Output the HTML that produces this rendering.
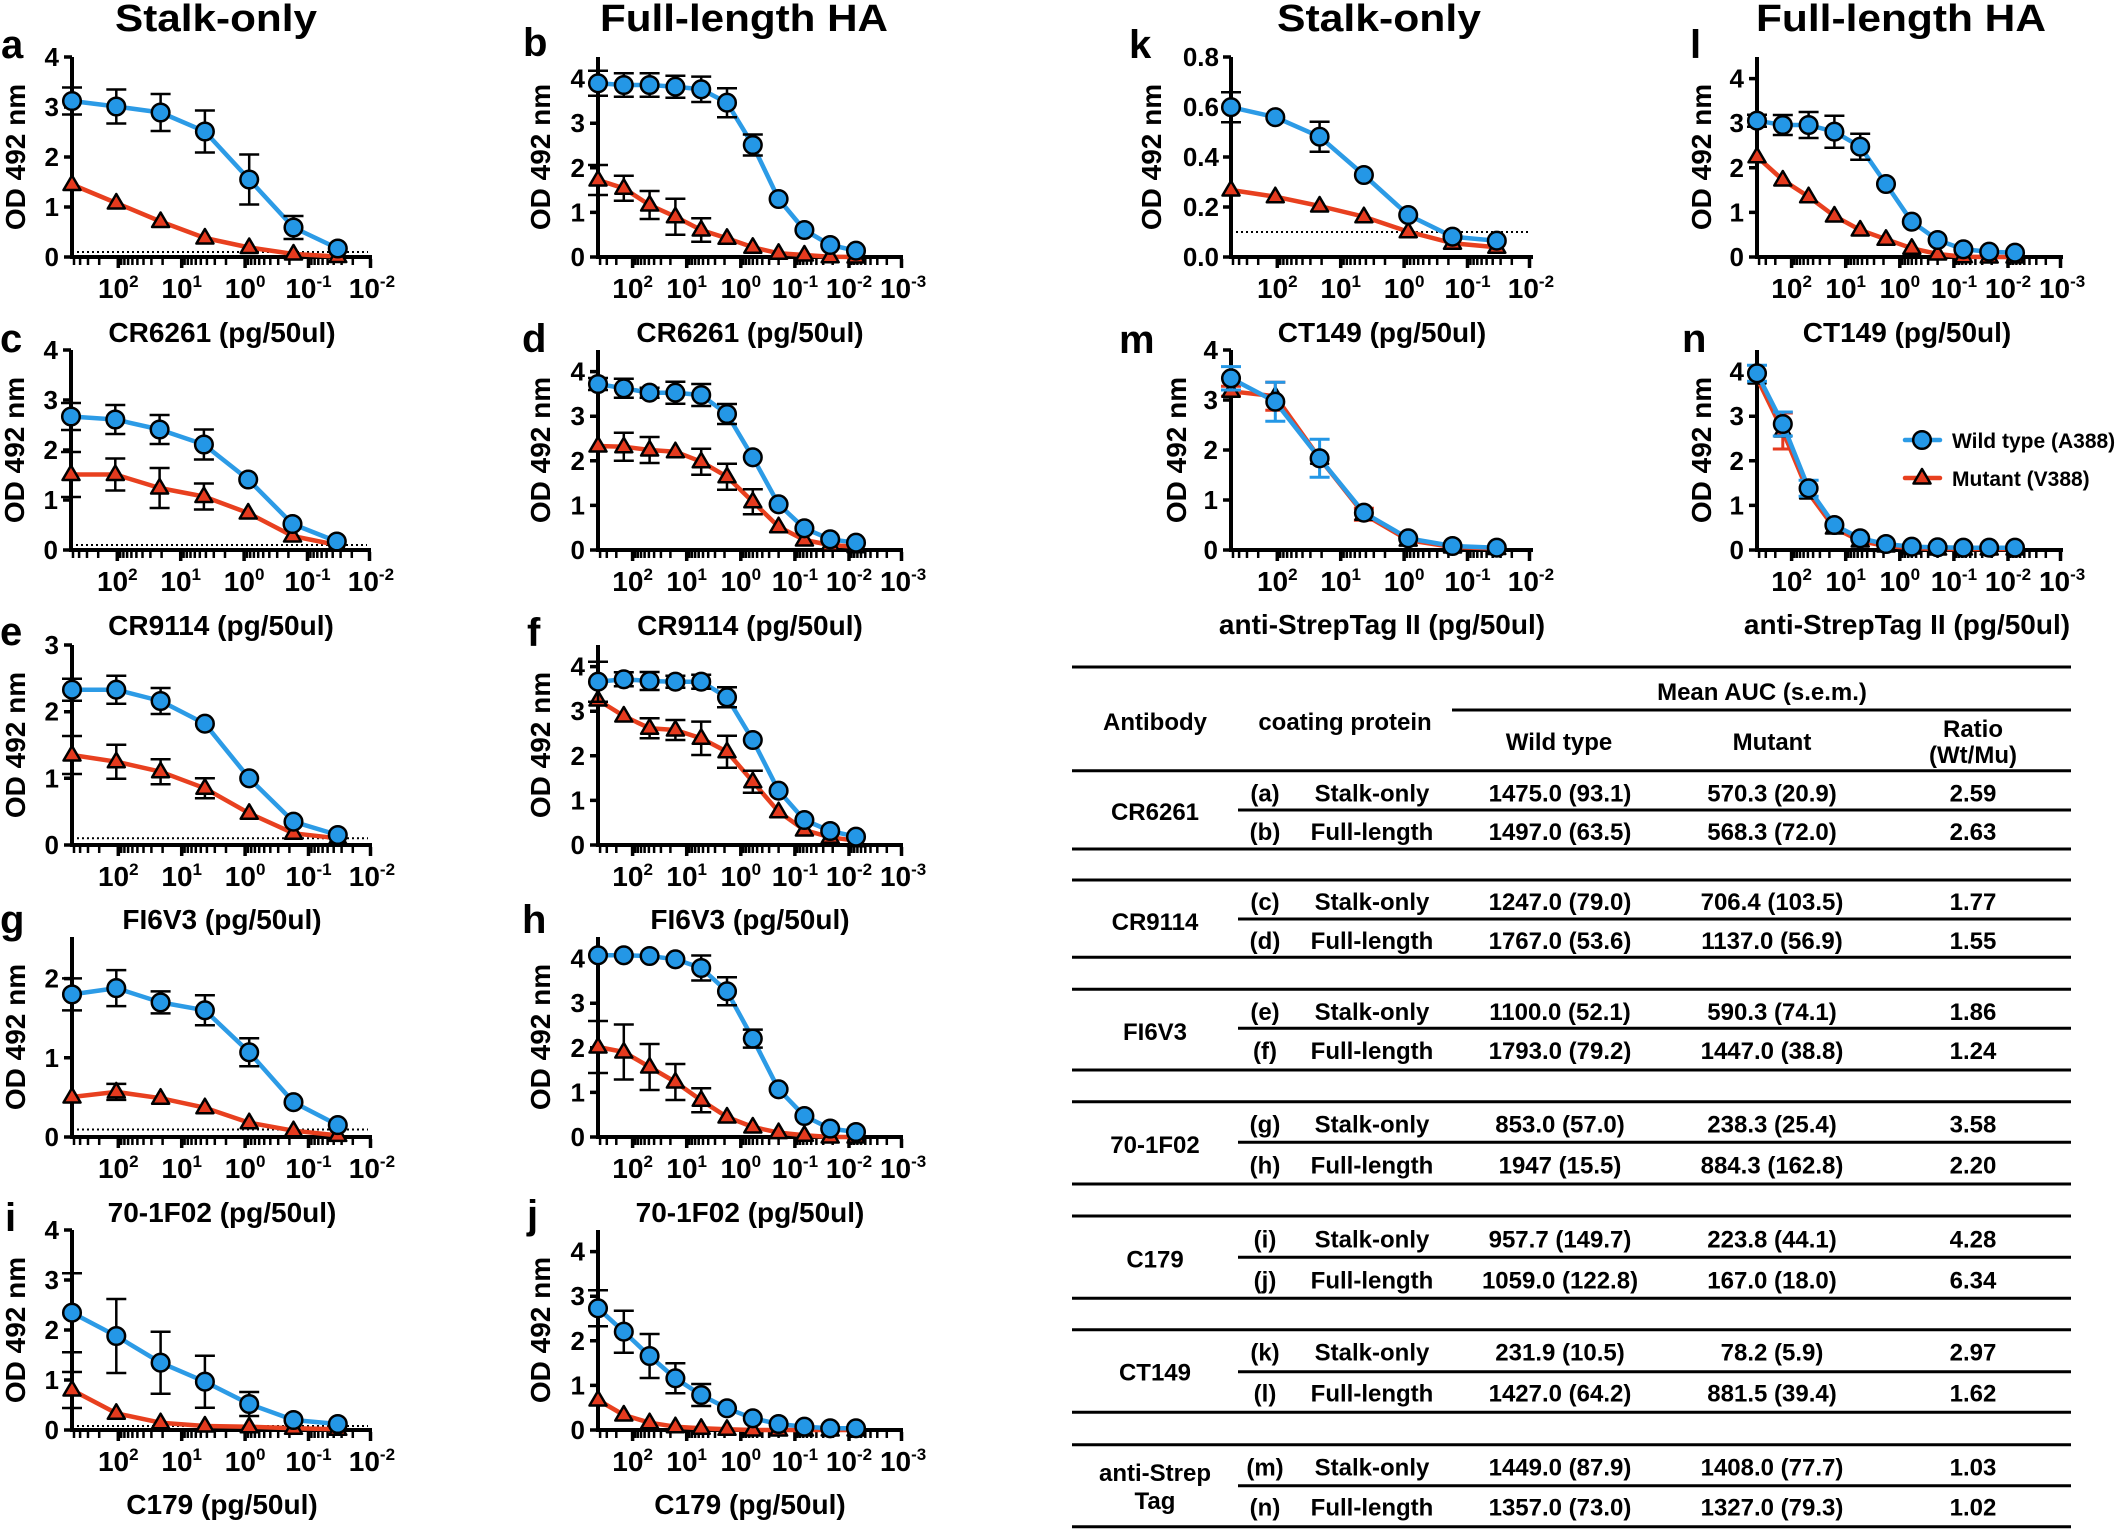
<!DOCTYPE html>
<html>
<head>
<meta charset="utf-8">
<style>
html,body{margin:0;padding:0;background:#fff;}
svg{display:block;}
text{font-family:"Liberation Sans",Arial,sans-serif;font-weight:bold;fill:#000;}
.ax{stroke:#000;stroke-width:4;fill:none;}
.tk{stroke:#000;stroke-width:2.5;fill:none;}
.tkM{stroke:#000;stroke-width:3.5;fill:none;}
.yt{stroke:#000;stroke-width:3.5;fill:none;}
.eb{stroke:#000;stroke-width:2.5;fill:none;}
.ebB{stroke:#2497E6;stroke-width:3;fill:none;}
.ebR{stroke:#E53A1E;stroke-width:3;fill:none;}
.lb{stroke:#2C9BE6;stroke-width:4.5;fill:none;stroke-linejoin:round;stroke-linecap:round;}
.lr{stroke:#E8401F;stroke-width:4.5;fill:none;stroke-linejoin:round;stroke-linecap:round;}
.dot{stroke:#000;stroke-width:2;stroke-dasharray:2 3;fill:none;}
.yl{font-size:26px;text-anchor:end;}
.xl{font-size:28px;text-anchor:middle;}
.sp{font-size:17px;}
.at{font-size:28px;text-anchor:middle;}
.od{font-size:28px;text-anchor:middle;}
.pl{font-size:40px;}
.ti{font-size:38px;}
.tb{font-size:24px;text-anchor:middle;}
.lg{font-size:21px;}
.tl{stroke:#000;stroke-width:3;fill:none;}
</style>
</head>
<body>
<svg width="2124" height="1529" viewBox="0 0 2124 1529" xmlns="http://www.w3.org/2000/svg">
<defs>
<circle id="C" r="8.8" fill="#2497E6" stroke="#000" stroke-width="2.5"/>
<path id="T" d="M0,-9L8.5,5.5L-8.5,5.5Z" fill="#E53A1E" stroke="#000" stroke-width="2.5" stroke-linejoin="round"/>
<g id="xtS">
<path class="tk" d="M2,2v6M8.1,2v6M16,2v6M27.2,2v6M49.2,2v6M52.4,2v6M56.1,2v6M60.4,2v6M65.4,2v6M71.5,2v6M79.4,2v6M90.6,2v6M112.6,2v6M115.8,2v6M119.5,2v6M123.8,2v6M128.8,2v6M134.9,2v6M142.8,2v6M154,2v6M176,2v6M179.2,2v6M182.9,2v6M187.2,2v6M192.2,2v6M198.3,2v6M206.2,2v6M217.4,2v6M239.4,2v6M242.6,2v6M246.3,2v6M250.6,2v6M255.6,2v6M261.7,2v6M269.6,2v6M280.8,2v6"/>
<path class="tkM" d="M46.3,2v9M109.7,2v9M173.1,2v9M236.5,2v9M298.5,2v9"/>
</g>
<g id="xtF">
<path class="tk" d="M2.1,2v6M8.8,2v6M18.3,2v6M37.1,2v6M39.8,2v6M43,2v6M46.6,2v6M50.9,2v6M56.1,2v6M62.9,2v6M72.4,2v6M91.2,2v6M93.9,2v6M97.1,2v6M100.7,2v6M105,2v6M110.2,2v6M117,2v6M126.5,2v6M145.3,2v6M148,2v6M151.2,2v6M154.8,2v6M159.1,2v6M164.3,2v6M171.1,2v6M180.6,2v6M199.4,2v6M202.1,2v6M205.3,2v6M208.9,2v6M213.2,2v6M218.4,2v6M225.2,2v6M234.7,2v6M253.5,2v6M256.2,2v6M259.4,2v6M263,2v6M267.3,2v6M272.5,2v6M279.3,2v6M288.8,2v6"/>
<path class="tkM" d="M34.6,2v9M88.7,2v9M142.8,2v9M196.9,2v9M251,2v9M303.5,2v9"/>
</g>
</defs>

<!-- Titles -->
<text class="ti" x="115" y="31" textLength="202" lengthAdjust="spacingAndGlyphs">Stalk-only</text>
<text class="ti" x="600" y="31" textLength="288" lengthAdjust="spacingAndGlyphs">Full-length HA</text>
<text class="ti" x="1277" y="31" textLength="204" lengthAdjust="spacingAndGlyphs">Stalk-only</text>
<text class="ti" x="1756" y="31" textLength="290" lengthAdjust="spacingAndGlyphs">Full-length HA</text>

<!-- Panel letters -->
<text class="pl" x="1" y="58">a</text>
<text class="pl" x="523" y="56">b</text>
<text class="pl" x="0" y="352">c</text>
<text class="pl" x="522" y="352">d</text>
<text class="pl" x="0" y="645">e</text>
<text class="pl" x="527" y="646">f</text>
<text class="pl" x="0" y="933">g</text>
<text class="pl" x="522" y="933">h</text>
<text class="pl" x="5" y="1231">i</text>
<text class="pl" x="527" y="1228">j</text>
<text class="pl" x="1129" y="58">k</text>
<text class="pl" x="1690" y="58">l</text>
<text class="pl" x="1119" y="353">m</text>
<text class="pl" x="1682" y="352">n</text>

<!-- ===== Panel a ===== -->
<g transform="translate(72,257)">
<use href="#xtS"/>
<path class="ax" d="M-2,0H300M0,2V-200"/>
<path class="yt" d="M-8,0H0M-8,-50H0M-8,-100H0M-8,-150H0M-8,-200H0"/>
<text class="yl" x="-13" y="9">0</text><text class="yl" x="-13" y="-41">1</text><text class="yl" x="-13" y="-91">2</text><text class="yl" x="-13" y="-141">3</text><text class="yl" x="-13" y="-191">4</text>
<text class="xl" x="46.3" y="41">10<tspan class="sp" dy="-11">2</tspan></text>
<text class="xl" x="109.7" y="41">10<tspan class="sp" dy="-11">1</tspan></text>
<text class="xl" x="173.1" y="41">10<tspan class="sp" dy="-11">0</tspan></text>
<text class="xl" x="236.5" y="41">10<tspan class="sp" dy="-11">-1</tspan></text>
<text class="xl" x="299.9" y="41">10<tspan class="sp" dy="-11">-2</tspan></text>
<text class="at" x="150" y="85">CR6261 (pg/50ul)</text>
<text class="od" transform="translate(-47,-100) rotate(-90)">OD 492 nm</text>
<path class="dot" d="M0,-5H296"/>
<polyline class="lr" points="0,-72.5 44.3,-54 88.6,-35.5 132.9,-19 177.2,-9.5 221.5,-3 265.8,-0.5"/>
<use href="#T" x="0" y="-72.5"/><use href="#T" x="44.3" y="-54"/><use href="#T" x="88.6" y="-35.5"/><use href="#T" x="132.9" y="-19"/><use href="#T" x="177.2" y="-9.5"/><use href="#T" x="221.5" y="-3"/><use href="#T" x="265.8" y="-0.5"/>
<polyline class="lb" points="0,-156 44.3,-150.5 88.6,-144.5 132.9,-125.5 177.2,-77.5 221.5,-29.5 265.8,-8.5"/>
<path class="eb" d="M0,-169.5V-142.5M-10,-169.5h20M-10,-142.5h20M44.3,-167.5V-133.5M34.3,-167.5h20M34.3,-133.5h20M88.6,-163V-126M78.6,-163h20M78.6,-126h20M132.9,-146.5V-104.5M122.9,-146.5h20M122.9,-104.5h20M177.2,-102.5V-52.5M167.2,-102.5h20M167.2,-52.5h20M221.5,-41V-18M211.5,-41h20M211.5,-18h20"/>
<use href="#C" x="0" y="-156"/><use href="#C" x="44.3" y="-150.5"/><use href="#C" x="88.6" y="-144.5"/><use href="#C" x="132.9" y="-125.5"/><use href="#C" x="177.2" y="-77.5"/><use href="#C" x="221.5" y="-29.5"/><use href="#C" x="265.8" y="-8.5"/>
</g>

<!-- ===== Panel c ===== -->
<g transform="translate(71,550)">
<use href="#xtS"/>
<path class="ax" d="M-2,0H300M0,2V-200"/>
<path class="yt" d="M-8,0H0M-8,-50H0M-8,-100H0M-8,-150H0M-8,-200H0"/>
<text class="yl" x="-13" y="9">0</text><text class="yl" x="-13" y="-41">1</text><text class="yl" x="-13" y="-91">2</text><text class="yl" x="-13" y="-141">3</text><text class="yl" x="-13" y="-191">4</text>
<text class="xl" x="46.3" y="41">10<tspan class="sp" dy="-11">2</tspan></text>
<text class="xl" x="109.7" y="41">10<tspan class="sp" dy="-11">1</tspan></text>
<text class="xl" x="173.1" y="41">10<tspan class="sp" dy="-11">0</tspan></text>
<text class="xl" x="236.5" y="41">10<tspan class="sp" dy="-11">-1</tspan></text>
<text class="xl" x="299.9" y="41">10<tspan class="sp" dy="-11">-2</tspan></text>
<text class="at" x="150" y="85">CR9114 (pg/50ul)</text>
<text class="od" transform="translate(-47,-100) rotate(-90)">OD 492 nm</text>
<path class="dot" d="M0,-5H296"/>
<polyline class="lr" points="0,-75.5 44.3,-75.5 88.6,-62 132.9,-53.5 177.2,-37 221.5,-14 265.8,-5"/>
<path class="eb" d="M0,-98V-53M-10,-98h20M-10,-53h20M44.3,-91.5V-59.5M34.3,-91.5h20M34.3,-59.5h20M88.6,-82V-42M78.6,-82h20M78.6,-42h20M132.9,-66.5V-40.5M122.9,-66.5h20M122.9,-40.5h20"/>
<use href="#T" x="0" y="-75.5"/><use href="#T" x="44.3" y="-75.5"/><use href="#T" x="88.6" y="-62"/><use href="#T" x="132.9" y="-53.5"/><use href="#T" x="177.2" y="-37"/><use href="#T" x="221.5" y="-14"/><use href="#T" x="265.8" y="-5"/>
<polyline class="lb" points="0,-133.5 44.3,-130.5 88.6,-120.5 132.9,-105.5 177.2,-70.5 221.5,-26 265.8,-8.5"/>
<path class="eb" d="M0,-147V-120M-10,-147h20M-10,-120h20M44.3,-145V-116M34.3,-145h20M34.3,-116h20M88.6,-135V-106M78.6,-135h20M78.6,-106h20M132.9,-120.5V-90.5M122.9,-120.5h20M122.9,-90.5h20"/>
<use href="#C" x="0" y="-133.5"/><use href="#C" x="44.3" y="-130.5"/><use href="#C" x="88.6" y="-120.5"/><use href="#C" x="132.9" y="-105.5"/><use href="#C" x="177.2" y="-70.5"/><use href="#C" x="221.5" y="-26"/><use href="#C" x="265.8" y="-8.5"/>
</g>

<!-- ===== Panel e ===== -->
<g transform="translate(72,845)">
<use href="#xtS"/>
<path class="ax" d="M-2,0H300M0,2V-200"/>
<path class="yt" d="M-8,0H0M-8,-66.7H0M-8,-133.3H0M-8,-200H0"/>
<text class="yl" x="-13" y="9">0</text><text class="yl" x="-13" y="-57.7">1</text><text class="yl" x="-13" y="-124.3">2</text><text class="yl" x="-13" y="-191">3</text>
<text class="xl" x="46.3" y="41">10<tspan class="sp" dy="-11">2</tspan></text>
<text class="xl" x="109.7" y="41">10<tspan class="sp" dy="-11">1</tspan></text>
<text class="xl" x="173.1" y="41">10<tspan class="sp" dy="-11">0</tspan></text>
<text class="xl" x="236.5" y="41">10<tspan class="sp" dy="-11">-1</tspan></text>
<text class="xl" x="299.9" y="41">10<tspan class="sp" dy="-11">-2</tspan></text>
<text class="at" x="150" y="84">FI6V3 (pg/50ul)</text>
<text class="od" transform="translate(-47,-100) rotate(-90)">OD 492 nm</text>
<path class="dot" d="M0,-6.7H296"/>
<polyline class="lr" points="0,-90 44.3,-83.3 88.6,-73.3 132.9,-56.7 177.2,-31.7 221.5,-11.7 265.8,-6.7"/>
<path class="eb" d="M0,-109V-71M-10,-109h20M-10,-71h20M44.3,-100.3V-66.3M34.3,-100.3h20M34.3,-66.3h20M88.6,-85.8V-60.8M78.6,-85.8h20M78.6,-60.8h20M132.9,-66.7V-46.7M122.9,-66.7h20M122.9,-46.7h20"/>
<use href="#T" x="0" y="-90"/><use href="#T" x="44.3" y="-83.3"/><use href="#T" x="88.6" y="-73.3"/><use href="#T" x="132.9" y="-56.7"/><use href="#T" x="177.2" y="-31.7"/><use href="#T" x="221.5" y="-11.7"/><use href="#T" x="265.8" y="-6.7"/>
<polyline class="lb" points="0,-155.3 44.3,-155.3 88.6,-144 132.9,-121.3 177.2,-66.7 221.5,-23.3 265.8,-10"/>
<path class="eb" d="M0,-166.3V-144.3M-10,-166.3h20M-10,-144.3h20M44.3,-169.3V-141.3M34.3,-169.3h20M34.3,-141.3h20M88.6,-157V-131M78.6,-157h20M78.6,-131h20"/>
<use href="#C" x="0" y="-155.3"/><use href="#C" x="44.3" y="-155.3"/><use href="#C" x="88.6" y="-144"/><use href="#C" x="132.9" y="-121.3"/><use href="#C" x="177.2" y="-66.7"/><use href="#C" x="221.5" y="-23.3"/><use href="#C" x="265.8" y="-10"/>
</g>

<!-- ===== Panel g ===== -->
<g transform="translate(72,1137)">
<use href="#xtS"/>
<path class="ax" d="M-2,0H300M0,2V-200"/>
<path class="yt" d="M-8,0H0M-8,-79.2H0M-8,-158.4H0"/>
<text class="yl" x="-13" y="9">0</text><text class="yl" x="-13" y="-70.2">1</text><text class="yl" x="-13" y="-149.4">2</text>
<text class="xl" x="46.3" y="41">10<tspan class="sp" dy="-11">2</tspan></text>
<text class="xl" x="109.7" y="41">10<tspan class="sp" dy="-11">1</tspan></text>
<text class="xl" x="173.1" y="41">10<tspan class="sp" dy="-11">0</tspan></text>
<text class="xl" x="236.5" y="41">10<tspan class="sp" dy="-11">-1</tspan></text>
<text class="xl" x="299.9" y="41">10<tspan class="sp" dy="-11">-2</tspan></text>
<text class="at" x="150" y="85">70-1F02 (pg/50ul)</text>
<text class="od" transform="translate(-47,-100) rotate(-90)">OD 492 nm</text>
<path class="dot" d="M0,-7.5H296"/>
<polyline class="lr" points="0,-40 44.3,-45.1 88.6,-38.8 132.9,-29.3 177.2,-14.3 221.5,-6.3 265.8,-1.6"/>
<path class="eb" d="M44.3,-53.1V-37.1M34.3,-53.1h20M34.3,-37.1h20"/>
<use href="#T" x="0" y="-40"/><use href="#T" x="44.3" y="-45.1"/><use href="#T" x="88.6" y="-38.8"/><use href="#T" x="132.9" y="-29.3"/><use href="#T" x="177.2" y="-14.3"/><use href="#T" x="221.5" y="-6.3"/><use href="#T" x="265.8" y="-1.6"/>
<polyline class="lb" points="0,-142.6 44.3,-148.9 88.6,-134.6 132.9,-126.7 177.2,-84.7 221.5,-34.8 265.8,-11.9"/>
<path class="eb" d="M0,-158.6V-126.6M-10,-158.6h20M-10,-126.6h20M44.3,-166.9V-130.9M34.3,-166.9h20M34.3,-130.9h20M88.6,-145.6V-123.6M78.6,-145.6h20M78.6,-123.6h20M132.9,-141.7V-111.7M122.9,-141.7h20M122.9,-111.7h20M177.2,-98.7V-70.7M167.2,-98.7h20M167.2,-70.7h20"/>
<use href="#C" x="0" y="-142.6"/><use href="#C" x="44.3" y="-148.9"/><use href="#C" x="88.6" y="-134.6"/><use href="#C" x="132.9" y="-126.7"/><use href="#C" x="177.2" y="-84.7"/><use href="#C" x="221.5" y="-34.8"/><use href="#C" x="265.8" y="-11.9"/>
</g>

<!-- ===== Panel i ===== -->
<g transform="translate(72,1430)">
<use href="#xtS"/>
<path class="ax" d="M-2,0H300M0,2V-200"/>
<path class="yt" d="M-8,0H0M-8,-50H0M-8,-100H0M-8,-150H0M-8,-200H0"/>
<text class="yl" x="-13" y="9">0</text><text class="yl" x="-13" y="-41">1</text><text class="yl" x="-13" y="-91">2</text><text class="yl" x="-13" y="-141">3</text><text class="yl" x="-13" y="-191">4</text>
<text class="xl" x="46.3" y="41">10<tspan class="sp" dy="-11">2</tspan></text>
<text class="xl" x="109.7" y="41">10<tspan class="sp" dy="-11">1</tspan></text>
<text class="xl" x="173.1" y="41">10<tspan class="sp" dy="-11">0</tspan></text>
<text class="xl" x="236.5" y="41">10<tspan class="sp" dy="-11">-1</tspan></text>
<text class="xl" x="299.9" y="41">10<tspan class="sp" dy="-11">-2</tspan></text>
<text class="at" x="150" y="84">C179 (pg/50ul)</text>
<text class="od" transform="translate(-47,-100) rotate(-90)">OD 492 nm</text>
<path class="dot" d="M0,-4H296"/>
<polyline class="lr" points="0,-40 44.3,-16.7 88.6,-7.3 132.9,-4 177.2,-3.3 221.5,-1.7 265.8,-0.7"/>
<path class="eb" d="M0,-58V-22M-10,-58h20M-10,-22h20"/>
<use href="#T" x="0" y="-40"/><use href="#T" x="44.3" y="-16.7"/><use href="#T" x="88.6" y="-7.3"/><use href="#T" x="132.9" y="-4"/><use href="#T" x="177.2" y="-3.3"/><use href="#T" x="221.5" y="-1.7"/><use href="#T" x="265.8" y="-0.7"/>
<polyline class="lb" points="0,-117.3 44.3,-94 88.6,-67.3 132.9,-48.3 177.2,-26 221.5,-10 265.8,-6"/>
<path class="eb" d="M0,-156.8V-77.8M-10,-156.8h20M-10,-77.8h20M44.3,-131V-57M34.3,-131h20M34.3,-57h20M88.6,-98.3V-36.3M78.6,-98.3h20M78.6,-36.3h20M132.9,-74.3V-22.3M122.9,-74.3h20M122.9,-22.3h20M177.2,-38V-14M167.2,-38h20M167.2,-14h20"/>
<use href="#C" x="0" y="-117.3"/><use href="#C" x="44.3" y="-94"/><use href="#C" x="88.6" y="-67.3"/><use href="#C" x="132.9" y="-48.3"/><use href="#C" x="177.2" y="-26"/><use href="#C" x="221.5" y="-10"/><use href="#C" x="265.8" y="-6"/>
</g>

<!-- ===== Panel k ===== -->
<g transform="translate(1231,257)">
<use href="#xtS"/>
<path class="ax" d="M-2,0H302M0,2V-200"/>
<path class="yt" d="M-8,0H0M-8,-50H0M-8,-100H0M-8,-150H0M-8,-200H0"/>
<text class="yl" x="-12" y="9">0.0</text><text class="yl" x="-12" y="-41">0.2</text><text class="yl" x="-12" y="-91">0.4</text><text class="yl" x="-12" y="-141">0.6</text><text class="yl" x="-12" y="-191">0.8</text>
<text class="xl" x="46.3" y="41">10<tspan class="sp" dy="-11">2</tspan></text>
<text class="xl" x="109.7" y="41">10<tspan class="sp" dy="-11">1</tspan></text>
<text class="xl" x="173.1" y="41">10<tspan class="sp" dy="-11">0</tspan></text>
<text class="xl" x="236.5" y="41">10<tspan class="sp" dy="-11">-1</tspan></text>
<text class="xl" x="299.9" y="41">10<tspan class="sp" dy="-11">-2</tspan></text>
<text class="at" x="151" y="85">CT149 (pg/50ul)</text>
<text class="od" transform="translate(-70,-100) rotate(-90)">OD 492 nm</text>
<path class="dot" d="M0,-25H300"/>
<polyline class="lr" points="0,-67 44.3,-60.3 88.6,-51 132.9,-40.3 177.2,-25.3 221.5,-13.8 265.8,-9.8"/>
<use href="#T" x="0" y="-67"/><use href="#T" x="44.3" y="-60.3"/><use href="#T" x="88.6" y="-51"/><use href="#T" x="132.9" y="-40.3"/><use href="#T" x="177.2" y="-25.3"/><use href="#T" x="221.5" y="-13.8"/><use href="#T" x="265.8" y="-9.8"/>
<polyline class="lb" points="0,-149.8 44.3,-139.8 88.6,-120.3 132.9,-82 177.2,-42 221.5,-20.3 265.8,-16.3"/>
<path class="eb" d="M0,-164.8V-134.8M-10,-164.8h20M-10,-134.8h20M88.6,-135.3V-105.3M78.6,-135.3h20M78.6,-105.3h20"/>
<use href="#C" x="0" y="-149.8"/><use href="#C" x="44.3" y="-139.8"/><use href="#C" x="88.6" y="-120.3"/><use href="#C" x="132.9" y="-82"/><use href="#C" x="177.2" y="-42"/><use href="#C" x="221.5" y="-20.3"/><use href="#C" x="265.8" y="-16.3"/>
</g>

<!-- ===== Panel m ===== -->
<g transform="translate(1231,550)">
<use href="#xtS"/>
<path class="ax" d="M-2,0H302M0,2V-200"/>
<path class="yt" d="M-8,0H0M-8,-50H0M-8,-100H0M-8,-150H0M-8,-200H0"/>
<text class="yl" x="-13" y="9">0</text><text class="yl" x="-13" y="-41">1</text><text class="yl" x="-13" y="-91">2</text><text class="yl" x="-13" y="-141">3</text><text class="yl" x="-13" y="-191">4</text>
<text class="xl" x="46.3" y="41">10<tspan class="sp" dy="-11">2</tspan></text>
<text class="xl" x="109.7" y="41">10<tspan class="sp" dy="-11">1</tspan></text>
<text class="xl" x="173.1" y="41">10<tspan class="sp" dy="-11">0</tspan></text>
<text class="xl" x="236.5" y="41">10<tspan class="sp" dy="-11">-1</tspan></text>
<text class="xl" x="299.9" y="41">10<tspan class="sp" dy="-11">-2</tspan></text>
<text class="at" x="151" y="84">anti-StrepTag II (pg/50ul)</text>
<text class="od" transform="translate(-45,-100) rotate(-90)">OD 492 nm</text>
<polyline class="lr" points="0,-158.7 44.3,-153.8 88.6,-91.7 132.9,-35.7 177.2,-9.9 221.5,-3 265.8,-1.5"/>
<path class="ebR" d="M0,-163.7V-153.7M-10,-163.7h20M-10,-153.7h20M44.3,-167.8V-139.8M34.3,-167.8h20M34.3,-139.8h20M132.9,-41.7V-29.7M122.9,-41.7h20M122.9,-29.7h20"/>
<use href="#T" x="0" y="-158.7"/><use href="#T" x="44.3" y="-153.8"/><use href="#T" x="88.6" y="-91.7"/><use href="#T" x="132.9" y="-35.7"/><use href="#T" x="177.2" y="-9.9"/><use href="#T" x="221.5" y="-3"/><use href="#T" x="265.8" y="-1.5"/>
<polyline class="lb" points="0,-171.7 44.3,-148.3 88.6,-91.7 132.9,-37.3 177.2,-11.7 221.5,-4 265.8,-2.3"/>
<path class="ebB" d="M0,-183.4V-160M-10,-183.4h20M-10,-160h20M44.3,-167.8V-128.8M34.3,-167.8h20M34.3,-128.8h20M88.6,-110.7V-72.7M78.6,-110.7h20M78.6,-72.7h20"/>
<use href="#C" x="0" y="-171.7"/><use href="#C" x="44.3" y="-148.3"/><use href="#C" x="88.6" y="-91.7"/><use href="#C" x="132.9" y="-37.3"/><use href="#C" x="177.2" y="-11.7"/><use href="#C" x="221.5" y="-4"/><use href="#C" x="265.8" y="-2.3"/>
</g>

<!-- ===== Panel b ===== -->
<g transform="translate(598,257)">
<use href="#xtF"/>
<path class="ax" d="M-2,0H305M0,2V-200"/>
<path class="yt" d="M-8,0H0M-8,-44.6H0M-8,-89.2H0M-8,-133.8H0M-8,-178.4H0"/>
<text class="yl" x="-13" y="9">0</text><text class="yl" x="-13" y="-35.6">1</text><text class="yl" x="-13" y="-80.2">2</text><text class="yl" x="-13" y="-124.8">3</text><text class="yl" x="-13" y="-169.4">4</text>
<text class="xl" x="34.6" y="41">10<tspan class="sp" dy="-11">2</tspan></text>
<text class="xl" x="88.7" y="41">10<tspan class="sp" dy="-11">1</tspan></text>
<text class="xl" x="142.8" y="41">10<tspan class="sp" dy="-11">0</tspan></text>
<text class="xl" x="196.9" y="41">10<tspan class="sp" dy="-11">-1</tspan></text>
<text class="xl" x="251" y="41">10<tspan class="sp" dy="-11">-2</tspan></text>
<text class="xl" x="305.1" y="41">10<tspan class="sp" dy="-11">-3</tspan></text>
<text class="at" x="152" y="85">CR6261 (pg/50ul)</text>
<text class="od" transform="translate(-48,-100) rotate(-90)">OD 492 nm</text>
<polyline class="lr" points="0,-77 25.8,-68.7 51.6,-52 77.4,-40.3 103.2,-27 129,-18.7 154.8,-9.7 180.6,-3.7 206.4,-2 232.2,-0.3 258,0"/>
<path class="eb" d="M0,-92V-62M-10,-92h20M-10,-62h20M25.8,-81.2V-56.2M15.8,-81.2h20M15.8,-56.2h20M51.6,-66V-38M41.6,-66h20M41.6,-38h20M77.4,-58.3V-22.3M67.4,-58.3h20M67.4,-22.3h20M103.2,-38.7V-15.3M93.2,-38.7h20M93.2,-15.3h20"/>
<use href="#T" x="0" y="-77"/><use href="#T" x="25.8" y="-68.7"/><use href="#T" x="51.6" y="-52"/><use href="#T" x="77.4" y="-40.3"/><use href="#T" x="103.2" y="-27"/><use href="#T" x="129" y="-18.7"/><use href="#T" x="154.8" y="-9.7"/><use href="#T" x="180.6" y="-3.7"/><use href="#T" x="206.4" y="-2"/><use href="#T" x="232.2" y="-0.3"/><use href="#T" x="258" y="0"/>
<polyline class="lb" points="0,-173.7 25.8,-172 51.6,-172 77.4,-170.3 103.2,-167.7 129,-154.3 154.8,-112 180.6,-58 206.4,-27 232.2,-12 258,-6.3"/>
<path class="eb" d="M0,-186.2V-161.2M-10,-186.2h20M-10,-161.2h20M25.8,-183.7V-160.3M15.8,-183.7h20M15.8,-160.3h20M51.6,-183.7V-160.3M41.6,-183.7h20M41.6,-160.3h20M77.4,-181.3V-159.3M67.4,-181.3h20M67.4,-159.3h20M103.2,-180.4V-155M93.2,-180.4h20M93.2,-155h20M129,-168.8V-139.8M119,-168.8h20M119,-139.8h20M154.8,-122.5V-101.5M144.8,-122.5h20M144.8,-101.5h20"/>
<use href="#C" x="0" y="-173.7"/><use href="#C" x="25.8" y="-172"/><use href="#C" x="51.6" y="-172"/><use href="#C" x="77.4" y="-170.3"/><use href="#C" x="103.2" y="-167.7"/><use href="#C" x="129" y="-154.3"/><use href="#C" x="154.8" y="-112"/><use href="#C" x="180.6" y="-58"/><use href="#C" x="206.4" y="-27"/><use href="#C" x="232.2" y="-12"/><use href="#C" x="258" y="-6.3"/>
</g>

<!-- ===== Panel d ===== -->
<g transform="translate(598,550)">
<use href="#xtF"/>
<path class="ax" d="M-2,0H305M0,2V-200"/>
<path class="yt" d="M-8,0H0M-8,-44.6H0M-8,-89.2H0M-8,-133.8H0M-8,-178.4H0"/>
<text class="yl" x="-13" y="9">0</text><text class="yl" x="-13" y="-35.6">1</text><text class="yl" x="-13" y="-80.2">2</text><text class="yl" x="-13" y="-124.8">3</text><text class="yl" x="-13" y="-169.4">4</text>
<text class="xl" x="34.6" y="41">10<tspan class="sp" dy="-11">2</tspan></text>
<text class="xl" x="88.7" y="41">10<tspan class="sp" dy="-11">1</tspan></text>
<text class="xl" x="142.8" y="41">10<tspan class="sp" dy="-11">0</tspan></text>
<text class="xl" x="196.9" y="41">10<tspan class="sp" dy="-11">-1</tspan></text>
<text class="xl" x="251" y="41">10<tspan class="sp" dy="-11">-2</tspan></text>
<text class="xl" x="305.1" y="41">10<tspan class="sp" dy="-11">-3</tspan></text>
<text class="at" x="152" y="85">CR9114 (pg/50ul)</text>
<text class="od" transform="translate(-48,-100) rotate(-90)">OD 492 nm</text>
<polyline class="lr" points="0,-104 25.8,-103.3 51.6,-100 77.4,-98.3 103.2,-88.3 129,-73.3 154.8,-48.3 180.6,-23.3 206.4,-10 232.2,-5 258,-3.3"/>
<path class="eb" d="M25.8,-117.3V-89.3M15.8,-117.3h20M15.8,-89.3h20M51.6,-113V-87M41.6,-113h20M41.6,-87h20M103.2,-101.3V-75.3M93.2,-101.3h20M93.2,-75.3h20M129,-86.3V-60.3M119,-86.3h20M119,-60.3h20M154.8,-60.8V-35.8M144.8,-60.8h20M144.8,-35.8h20"/>
<use href="#T" x="0" y="-104"/><use href="#T" x="25.8" y="-103.3"/><use href="#T" x="51.6" y="-100"/><use href="#T" x="77.4" y="-98.3"/><use href="#T" x="103.2" y="-88.3"/><use href="#T" x="129" y="-73.3"/><use href="#T" x="154.8" y="-48.3"/><use href="#T" x="180.6" y="-23.3"/><use href="#T" x="206.4" y="-10"/><use href="#T" x="232.2" y="-5"/><use href="#T" x="258" y="-3.3"/>
<polyline class="lb" points="0,-166 25.8,-161.7 51.6,-157.3 77.4,-157.3 103.2,-155 129,-136 154.8,-92.7 180.6,-45.7 206.4,-21.7 232.2,-10.7 258,-7.3"/>
<path class="eb" d="M0,-172V-160M-10,-172h20M-10,-160h20M25.8,-171.2V-152.2M15.8,-171.2h20M15.8,-152.2h20M51.6,-162.3V-152.3M41.6,-162.3h20M41.6,-152.3h20M77.4,-168.3V-146.3M67.4,-168.3h20M67.4,-146.3h20M103.2,-166V-144M93.2,-166h20M93.2,-144h20M129,-146V-126M119,-146h20M119,-126h20"/>
<use href="#C" x="0" y="-166"/><use href="#C" x="25.8" y="-161.7"/><use href="#C" x="51.6" y="-157.3"/><use href="#C" x="77.4" y="-157.3"/><use href="#C" x="103.2" y="-155"/><use href="#C" x="129" y="-136"/><use href="#C" x="154.8" y="-92.7"/><use href="#C" x="180.6" y="-45.7"/><use href="#C" x="206.4" y="-21.7"/><use href="#C" x="232.2" y="-10.7"/><use href="#C" x="258" y="-7.3"/>
</g>

<!-- ===== Panel f ===== -->
<g transform="translate(598,845)">
<use href="#xtF"/>
<path class="ax" d="M-2,0H305M0,2V-200"/>
<path class="yt" d="M-8,0H0M-8,-44.6H0M-8,-89.2H0M-8,-133.8H0M-8,-178.4H0"/>
<text class="yl" x="-13" y="9">0</text><text class="yl" x="-13" y="-35.6">1</text><text class="yl" x="-13" y="-80.2">2</text><text class="yl" x="-13" y="-124.8">3</text><text class="yl" x="-13" y="-169.4">4</text>
<text class="xl" x="34.6" y="41">10<tspan class="sp" dy="-11">2</tspan></text>
<text class="xl" x="88.7" y="41">10<tspan class="sp" dy="-11">1</tspan></text>
<text class="xl" x="142.8" y="41">10<tspan class="sp" dy="-11">0</tspan></text>
<text class="xl" x="196.9" y="41">10<tspan class="sp" dy="-11">-1</tspan></text>
<text class="xl" x="251" y="41">10<tspan class="sp" dy="-11">-2</tspan></text>
<text class="xl" x="305.1" y="41">10<tspan class="sp" dy="-11">-3</tspan></text>
<text class="at" x="152" y="84">FI6V3 (pg/50ul)</text>
<text class="od" transform="translate(-48,-100) rotate(-90)">OD 492 nm</text>
<polyline class="lr" points="0,-145 25.8,-129 51.6,-116.7 77.4,-115 103.2,-106.7 129,-93.3 154.8,-63.3 180.6,-33.3 206.4,-15 232.2,-7.7 258,-4.3"/>
<path class="eb" d="M51.6,-126.7V-106.7M41.6,-126.7h20M41.6,-106.7h20M77.4,-125V-105M67.4,-125h20M67.4,-105h20M103.2,-123.4V-90M93.2,-123.4h20M93.2,-90h20M129,-109.3V-77.3M119,-109.3h20M119,-77.3h20M154.8,-74.3V-52.3M144.8,-74.3h20M144.8,-52.3h20"/>
<use href="#T" x="0" y="-145"/><use href="#T" x="25.8" y="-129"/><use href="#T" x="51.6" y="-116.7"/><use href="#T" x="77.4" y="-115"/><use href="#T" x="103.2" y="-106.7"/><use href="#T" x="129" y="-93.3"/><use href="#T" x="154.8" y="-63.3"/><use href="#T" x="180.6" y="-33.3"/><use href="#T" x="206.4" y="-15"/><use href="#T" x="232.2" y="-7.7"/><use href="#T" x="258" y="-4.3"/>
<polyline class="lb" points="0,-163.3 25.8,-165.7 51.6,-164 77.4,-163.3 103.2,-163.3 129,-147.7 154.8,-105 180.6,-54.3 206.4,-25 232.2,-14 258,-8.3"/>
<path class="eb" d="M0,-183.3V-143.3M-10,-183.3h20M-10,-143.3h20M25.8,-172.7V-158.7M15.8,-172.7h20M15.8,-158.7h20M51.6,-173V-155M41.6,-173h20M41.6,-155h20M77.4,-169.3V-157.3M67.4,-169.3h20M67.4,-157.3h20M103.2,-170.3V-156.3M93.2,-170.3h20M93.2,-156.3h20M129,-157.7V-137.7M119,-157.7h20M119,-137.7h20"/>
<use href="#C" x="0" y="-163.3"/><use href="#C" x="25.8" y="-165.7"/><use href="#C" x="51.6" y="-164"/><use href="#C" x="77.4" y="-163.3"/><use href="#C" x="103.2" y="-163.3"/><use href="#C" x="129" y="-147.7"/><use href="#C" x="154.8" y="-105"/><use href="#C" x="180.6" y="-54.3"/><use href="#C" x="206.4" y="-25"/><use href="#C" x="232.2" y="-14"/><use href="#C" x="258" y="-8.3"/>
</g>

<!-- ===== Panel h ===== -->
<g transform="translate(598,1137)">
<use href="#xtF"/>
<path class="ax" d="M-2,0H305M0,2V-200"/>
<path class="yt" d="M-8,0H0M-8,-44.6H0M-8,-89.2H0M-8,-133.8H0M-8,-178.4H0"/>
<text class="yl" x="-13" y="9">0</text><text class="yl" x="-13" y="-35.6">1</text><text class="yl" x="-13" y="-80.2">2</text><text class="yl" x="-13" y="-124.8">3</text><text class="yl" x="-13" y="-169.4">4</text>
<text class="xl" x="34.6" y="41">10<tspan class="sp" dy="-11">2</tspan></text>
<text class="xl" x="88.7" y="41">10<tspan class="sp" dy="-11">1</tspan></text>
<text class="xl" x="142.8" y="41">10<tspan class="sp" dy="-11">0</tspan></text>
<text class="xl" x="196.9" y="41">10<tspan class="sp" dy="-11">-1</tspan></text>
<text class="xl" x="251" y="41">10<tspan class="sp" dy="-11">-2</tspan></text>
<text class="xl" x="305.1" y="41">10<tspan class="sp" dy="-11">-3</tspan></text>
<text class="at" x="152" y="85">70-1F02 (pg/50ul)</text>
<text class="od" transform="translate(-48,-100) rotate(-90)">OD 492 nm</text>
<polyline class="lr" points="0,-90 25.8,-85 51.6,-70 77.4,-55 103.2,-36.7 129,-20 154.8,-10 180.6,-4.4 206.4,-1.7 232.2,0 258,0"/>
<path class="eb" d="M0,-116V-64M-10,-116h20M-10,-64h20M25.8,-112.5V-57.5M15.8,-112.5h20M15.8,-57.5h20M51.6,-93V-47M41.6,-93h20M41.6,-47h20M77.4,-73V-37M67.4,-73h20M67.4,-37h20M103.2,-48.7V-24.7M93.2,-48.7h20M93.2,-24.7h20"/>
<use href="#T" x="0" y="-90"/><use href="#T" x="25.8" y="-85"/><use href="#T" x="51.6" y="-70"/><use href="#T" x="77.4" y="-55"/><use href="#T" x="103.2" y="-36.7"/><use href="#T" x="129" y="-20"/><use href="#T" x="154.8" y="-10"/><use href="#T" x="180.6" y="-4.4"/><use href="#T" x="206.4" y="-1.7"/><use href="#T" x="232.2" y="0"/><use href="#T" x="258" y="0"/>
<polyline class="lb" points="0,-181.7 25.8,-181.7 51.6,-181 77.4,-177.7 103.2,-169 129,-145.7 154.8,-98.4 180.6,-47.7 206.4,-21 232.2,-8.4 258,-5"/>
<path class="eb" d="M103.2,-181.5V-156.5M93.2,-181.5h20M93.2,-156.5h20M129,-159.7V-131.7M119,-159.7h20M119,-131.7h20M154.8,-107.4V-89.4M144.8,-107.4h20M144.8,-89.4h20"/>
<use href="#C" x="0" y="-181.7"/><use href="#C" x="25.8" y="-181.7"/><use href="#C" x="51.6" y="-181"/><use href="#C" x="77.4" y="-177.7"/><use href="#C" x="103.2" y="-169"/><use href="#C" x="129" y="-145.7"/><use href="#C" x="154.8" y="-98.4"/><use href="#C" x="180.6" y="-47.7"/><use href="#C" x="206.4" y="-21"/><use href="#C" x="232.2" y="-8.4"/><use href="#C" x="258" y="-5"/>
</g>

<!-- ===== Panel j ===== -->
<g transform="translate(598,1430)">
<use href="#xtF"/>
<path class="ax" d="M-2,0H305M0,2V-200"/>
<path class="yt" d="M-8,0H0M-8,-44.6H0M-8,-89.2H0M-8,-133.8H0M-8,-178.4H0"/>
<text class="yl" x="-13" y="9">0</text><text class="yl" x="-13" y="-35.6">1</text><text class="yl" x="-13" y="-80.2">2</text><text class="yl" x="-13" y="-124.8">3</text><text class="yl" x="-13" y="-169.4">4</text>
<text class="xl" x="34.6" y="41">10<tspan class="sp" dy="-11">2</tspan></text>
<text class="xl" x="88.7" y="41">10<tspan class="sp" dy="-11">1</tspan></text>
<text class="xl" x="142.8" y="41">10<tspan class="sp" dy="-11">0</tspan></text>
<text class="xl" x="196.9" y="41">10<tspan class="sp" dy="-11">-1</tspan></text>
<text class="xl" x="251" y="41">10<tspan class="sp" dy="-11">-2</tspan></text>
<text class="xl" x="305.1" y="41">10<tspan class="sp" dy="-11">-3</tspan></text>
<text class="at" x="152" y="84">C179 (pg/50ul)</text>
<text class="od" transform="translate(-48,-100) rotate(-90)">OD 492 nm</text>
<polyline class="lr" points="0,-30 25.8,-15 51.6,-7.3 77.4,-3.3 103.2,-1.7 129,-0.7 154.8,0 180.6,0 206.4,0 232.2,0 258,0"/>
<use href="#T" x="0" y="-30"/><use href="#T" x="25.8" y="-15"/><use href="#T" x="51.6" y="-7.3"/><use href="#T" x="77.4" y="-3.3"/><use href="#T" x="103.2" y="-1.7"/><use href="#T" x="129" y="-0.7"/><use href="#T" x="154.8" y="0"/><use href="#T" x="180.6" y="0"/><use href="#T" x="206.4" y="0"/><use href="#T" x="232.2" y="0"/><use href="#T" x="258" y="0"/>
<polyline class="lb" points="0,-121.7 25.8,-98.3 51.6,-74 77.4,-51.7 103.2,-35 129,-21.7 154.8,-11.7 180.6,-6 206.4,-3.3 232.2,-1.7 258,-1.7"/>
<path class="eb" d="M0,-139.7V-103.7M-10,-139.7h20M-10,-103.7h20M25.8,-119.3V-77.3M15.8,-119.3h20M15.8,-77.3h20M51.6,-96V-52M41.6,-96h20M41.6,-52h20M77.4,-66.7V-36.7M67.4,-66.7h20M67.4,-36.7h20M103.2,-46V-24M93.2,-46h20M93.2,-24h20"/>
<use href="#C" x="0" y="-121.7"/><use href="#C" x="25.8" y="-98.3"/><use href="#C" x="51.6" y="-74"/><use href="#C" x="77.4" y="-51.7"/><use href="#C" x="103.2" y="-35"/><use href="#C" x="129" y="-21.7"/><use href="#C" x="154.8" y="-11.7"/><use href="#C" x="180.6" y="-6"/><use href="#C" x="206.4" y="-3.3"/><use href="#C" x="232.2" y="-1.7"/><use href="#C" x="258" y="-1.7"/>
</g>

<!-- ===== Panel l ===== -->
<g transform="translate(1757,257)">
<use href="#xtF"/>
<path class="ax" d="M-2,0H306M0,2V-200"/>
<path class="yt" d="M-8,0H0M-8,-44.6H0M-8,-89.2H0M-8,-133.8H0M-8,-178.4H0"/>
<text class="yl" x="-13" y="9">0</text><text class="yl" x="-13" y="-35.6">1</text><text class="yl" x="-13" y="-80.2">2</text><text class="yl" x="-13" y="-124.8">3</text><text class="yl" x="-13" y="-169.4">4</text>
<text class="xl" x="34.6" y="41">10<tspan class="sp" dy="-11">2</tspan></text>
<text class="xl" x="88.7" y="41">10<tspan class="sp" dy="-11">1</tspan></text>
<text class="xl" x="142.8" y="41">10<tspan class="sp" dy="-11">0</tspan></text>
<text class="xl" x="196.9" y="41">10<tspan class="sp" dy="-11">-1</tspan></text>
<text class="xl" x="251" y="41">10<tspan class="sp" dy="-11">-2</tspan></text>
<text class="xl" x="305.1" y="41">10<tspan class="sp" dy="-11">-3</tspan></text>
<text class="at" x="150" y="85">CT149 (pg/50ul)</text>
<text class="od" transform="translate(-46,-100) rotate(-90)">OD 492 nm</text>
<polyline class="lr" points="0,-100.3 25.8,-77 51.6,-60.3 77.4,-41 103.2,-27 129,-17.7 154.8,-8.7 180.6,-3 206.4,-0.3 232.2,0 258,0"/>
<use href="#T" x="0" y="-100.3"/><use href="#T" x="25.8" y="-77"/><use href="#T" x="51.6" y="-60.3"/><use href="#T" x="77.4" y="-41"/><use href="#T" x="103.2" y="-27"/><use href="#T" x="129" y="-17.7"/><use href="#T" x="154.8" y="-8.7"/><use href="#T" x="180.6" y="-3"/><use href="#T" x="206.4" y="-0.3"/><use href="#T" x="232.2" y="0"/><use href="#T" x="258" y="0"/>
<polyline class="lb" points="0,-136.3 25.8,-132 51.6,-132 77.4,-125.3 103.2,-110.3 129,-73 154.8,-35.3 180.6,-17 206.4,-7.7 232.2,-5.3 258,-4.3"/>
<path class="eb" d="M0,-142.3V-130.3M-10,-142.3h20M-10,-130.3h20M25.8,-142V-122M15.8,-142h20M15.8,-122h20M51.6,-145V-119M41.6,-145h20M41.6,-119h20M77.4,-141.3V-109.3M67.4,-141.3h20M67.4,-109.3h20M103.2,-123.3V-97.3M93.2,-123.3h20M93.2,-97.3h20"/>
<use href="#C" x="0" y="-136.3"/><use href="#C" x="25.8" y="-132"/><use href="#C" x="51.6" y="-132"/><use href="#C" x="77.4" y="-125.3"/><use href="#C" x="103.2" y="-110.3"/><use href="#C" x="129" y="-73"/><use href="#C" x="154.8" y="-35.3"/><use href="#C" x="180.6" y="-17"/><use href="#C" x="206.4" y="-7.7"/><use href="#C" x="232.2" y="-5.3"/><use href="#C" x="258" y="-4.3"/>
</g>

<!-- ===== Panel n ===== -->
<g transform="translate(1757,550)">
<use href="#xtF"/>
<path class="ax" d="M-2,0H306M0,2V-200"/>
<path class="yt" d="M-8,0H0M-8,-44.6H0M-8,-89.2H0M-8,-133.8H0M-8,-178.4H0"/>
<text class="yl" x="-13" y="9">0</text><text class="yl" x="-13" y="-35.6">1</text><text class="yl" x="-13" y="-80.2">2</text><text class="yl" x="-13" y="-124.8">3</text><text class="yl" x="-13" y="-169.4">4</text>
<text class="xl" x="34.6" y="41">10<tspan class="sp" dy="-11">2</tspan></text>
<text class="xl" x="88.7" y="41">10<tspan class="sp" dy="-11">1</tspan></text>
<text class="xl" x="142.8" y="41">10<tspan class="sp" dy="-11">0</tspan></text>
<text class="xl" x="196.9" y="41">10<tspan class="sp" dy="-11">-1</tspan></text>
<text class="xl" x="251" y="41">10<tspan class="sp" dy="-11">-2</tspan></text>
<text class="xl" x="305.1" y="41">10<tspan class="sp" dy="-11">-3</tspan></text>
<text class="at" x="150" y="84">anti-StrepTag II (pg/50ul)</text>
<text class="od" transform="translate(-46,-100) rotate(-90)">OD 492 nm</text>
<polyline class="lr" points="0,-172 25.8,-119 51.6,-57 77.4,-22 103.2,-9 129,-4 154.8,-2 180.6,-1 206.4,-1 232.2,-1 258,-1"/>
<path class="ebR" d="M25.8,-137V-101M15.8,-137h20M15.8,-101h20"/>
<use href="#T" x="0" y="-172"/><use href="#T" x="25.8" y="-119"/><use href="#T" x="51.6" y="-57"/><use href="#T" x="77.4" y="-22"/><use href="#T" x="103.2" y="-9"/><use href="#T" x="129" y="-4"/><use href="#T" x="154.8" y="-2"/><use href="#T" x="180.6" y="-1"/><use href="#T" x="206.4" y="-1"/><use href="#T" x="232.2" y="-1"/><use href="#T" x="258" y="-1"/>
<polyline class="lb" points="0,-176.7 25.8,-126 51.6,-61.7 77.4,-25 103.2,-11.7 129,-6 154.8,-3.3 180.6,-2.7 206.4,-2.3 232.2,-2.3 258,-2.3"/>
<path class="ebB" d="M0,-184.7V-168.7M-10,-184.7h20M-10,-168.7h20M25.8,-138V-114M15.8,-138h20M15.8,-114h20M51.6,-69.7V-53.7M41.6,-69.7h20M41.6,-53.7h20"/>
<use href="#C" x="0" y="-176.7"/><use href="#C" x="25.8" y="-126"/><use href="#C" x="51.6" y="-61.7"/><use href="#C" x="77.4" y="-25"/><use href="#C" x="103.2" y="-11.7"/><use href="#C" x="129" y="-6"/><use href="#C" x="154.8" y="-3.3"/><use href="#C" x="180.6" y="-2.7"/><use href="#C" x="206.4" y="-2.3"/><use href="#C" x="232.2" y="-2.3"/><use href="#C" x="258" y="-2.3"/>
</g>

<!-- Legend -->
<path class="lb" d="M1905,440H1940"/>
<use href="#C" x="1922" y="440"/>
<text class="lg" x="1952" y="448">Wild type (A388)</text>
<path class="lr" d="M1905,478H1940"/>
<use href="#T" x="1922" y="478"/>
<text class="lg" x="1952" y="486">Mutant (V388)</text>

<!-- ===== Table ===== -->
<path class="tl" d="M1072,667H2071M1452,710H2071M1072,770.7H2071M1238,810H2071M1072,849H2071M1072,880H2071M1238,919H2071M1072,957.3H2071M1072,989.3H2071M1238,1028.3H2071M1072,1070H2071M1072,1101.7H2071M1238,1142.3H2071M1072,1184H2071M1072,1216H2071M1238,1257.3H2071M1072,1298.3H2071M1072,1329.7H2071M1238,1371.7H2071M1072,1412.3H2071M1072,1444.7H2071M1238,1485.7H2071M1072,1526.7H2071"/>
<text class="tb" x="1762" y="700">Mean AUC (s.e.m.)</text>
<text class="tb" x="1155" y="730">Antibody</text>
<text class="tb" x="1345" y="730">coating protein</text>
<text class="tb" x="1559" y="750">Wild type</text>
<text class="tb" x="1772" y="750">Mutant</text>
<text class="tb" x="1973" y="737">Ratio</text>
<text class="tb" x="1973" y="763">(Wt/Mu)</text>

<text class="tb" x="1155" y="820">CR6261</text>
<text class="tb" x="1265" y="801.7">(a)</text><text class="tb" x="1372" y="801.7">Stalk-only</text><text class="tb" x="1560" y="801.7">1475.0 (93.1)</text><text class="tb" x="1772" y="801.7">570.3 (20.9)</text><text class="tb" x="1973" y="801.7">2.59</text>
<text class="tb" x="1265" y="840">(b)</text><text class="tb" x="1372" y="840">Full-length</text><text class="tb" x="1560" y="840">1497.0 (63.5)</text><text class="tb" x="1772" y="840">568.3 (72.0)</text><text class="tb" x="1973" y="840">2.63</text>

<text class="tb" x="1155" y="930">CR9114</text>
<text class="tb" x="1265" y="910">(c)</text><text class="tb" x="1372" y="910">Stalk-only</text><text class="tb" x="1560" y="910">1247.0 (79.0)</text><text class="tb" x="1772" y="910">706.4 (103.5)</text><text class="tb" x="1973" y="910">1.77</text>
<text class="tb" x="1265" y="949">(d)</text><text class="tb" x="1372" y="949">Full-length</text><text class="tb" x="1560" y="949">1767.0 (53.6)</text><text class="tb" x="1772" y="949">1137.0 (56.9)</text><text class="tb" x="1973" y="949">1.55</text>

<text class="tb" x="1155" y="1040">FI6V3</text>
<text class="tb" x="1265" y="1020">(e)</text><text class="tb" x="1372" y="1020">Stalk-only</text><text class="tb" x="1560" y="1020">1100.0 (52.1)</text><text class="tb" x="1772" y="1020">590.3 (74.1)</text><text class="tb" x="1973" y="1020">1.86</text>
<text class="tb" x="1265" y="1059">(f)</text><text class="tb" x="1372" y="1059">Full-length</text><text class="tb" x="1560" y="1059">1793.0 (79.2)</text><text class="tb" x="1772" y="1059">1447.0 (38.8)</text><text class="tb" x="1973" y="1059">1.24</text>

<text class="tb" x="1155" y="1153">70-1F02</text>
<text class="tb" x="1265" y="1132.7">(g)</text><text class="tb" x="1372" y="1132.7">Stalk-only</text><text class="tb" x="1560" y="1132.7">853.0 (57.0)</text><text class="tb" x="1772" y="1132.7">238.3 (25.4)</text><text class="tb" x="1973" y="1132.7">3.58</text>
<text class="tb" x="1265" y="1173.3">(h)</text><text class="tb" x="1372" y="1173.3">Full-length</text><text class="tb" x="1560" y="1173.3">1947 (15.5)</text><text class="tb" x="1772" y="1173.3">884.3 (162.8)</text><text class="tb" x="1973" y="1173.3">2.20</text>

<text class="tb" x="1155" y="1267.3">C179</text>
<text class="tb" x="1265" y="1247.3">(i)</text><text class="tb" x="1372" y="1247.3">Stalk-only</text><text class="tb" x="1560" y="1247.3">957.7 (149.7)</text><text class="tb" x="1772" y="1247.3">223.8 (44.1)</text><text class="tb" x="1973" y="1247.3">4.28</text>
<text class="tb" x="1265" y="1288.3">(j)</text><text class="tb" x="1372" y="1288.3">Full-length</text><text class="tb" x="1560" y="1288.3">1059.0 (122.8)</text><text class="tb" x="1772" y="1288.3">167.0 (18.0)</text><text class="tb" x="1973" y="1288.3">6.34</text>

<text class="tb" x="1155" y="1380.7">CT149</text>
<text class="tb" x="1265" y="1360.7">(k)</text><text class="tb" x="1372" y="1360.7">Stalk-only</text><text class="tb" x="1560" y="1360.7">231.9 (10.5)</text><text class="tb" x="1772" y="1360.7">78.2 (5.9)</text><text class="tb" x="1973" y="1360.7">2.97</text>
<text class="tb" x="1265" y="1401.7">(l)</text><text class="tb" x="1372" y="1401.7">Full-length</text><text class="tb" x="1560" y="1401.7">1427.0 (64.2)</text><text class="tb" x="1772" y="1401.7">881.5 (39.4)</text><text class="tb" x="1973" y="1401.7">1.62</text>

<text class="tb" x="1155" y="1481">anti-Strep</text>
<text class="tb" x="1155" y="1509">Tag</text>
<text class="tb" x="1265" y="1475.7">(m)</text><text class="tb" x="1372" y="1475.7">Stalk-only</text><text class="tb" x="1560" y="1475.7">1449.0 (87.9)</text><text class="tb" x="1772" y="1475.7">1408.0 (77.7)</text><text class="tb" x="1973" y="1475.7">1.03</text>
<text class="tb" x="1265" y="1515.7">(n)</text><text class="tb" x="1372" y="1515.7">Full-length</text><text class="tb" x="1560" y="1515.7">1357.0 (73.0)</text><text class="tb" x="1772" y="1515.7">1327.0 (79.3)</text><text class="tb" x="1973" y="1515.7">1.02</text>
</svg>
</body>
</html>
